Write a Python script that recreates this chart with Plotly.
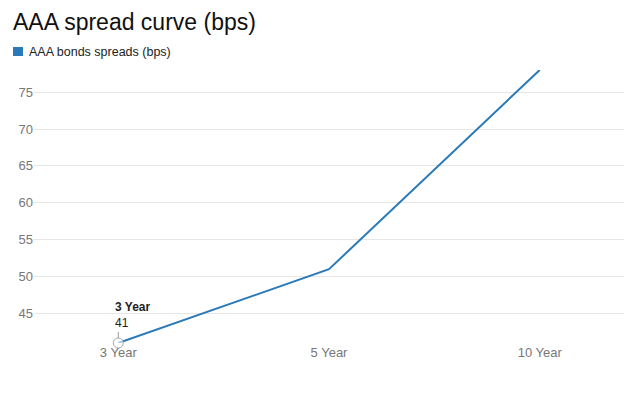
import plotly.graph_objects as go

categories = ["3 Year", "5 Year", "10 Year"]
spreads = [41, 51, 78]
series_name = "AAA bonds spreads (bps)"
title_text = "AAA spread curve (bps)"
y_ticks = [45, 50, 55, 60, 65, 70, 75]

line_color = "#2a7ab9"

fig = go.Figure()
fig.add_trace(go.Scatter(
    x=categories, y=spreads, mode="lines", name=series_name,
    line=dict(color=line_color, width=2),
    showlegend=False, hoverinfo="skip",
))
# highlighted point
fig.add_trace(go.Scatter(
    x=[categories[0]], y=[spreads[0]], mode="markers",
    marker=dict(symbol="circle", size=10, color="rgba(255,255,255,0.6)",
                line=dict(color="#aaaaaa", width=1)),
    showlegend=False, hoverinfo="skip", cliponaxis=False,
))

# legend swatch + label (drawn manually to match the compact legend)
fig.add_shape(type="rect", xref="paper", yref="paper",
              x0=-0.0356, x1=-0.0186, y0=1.0513, y1=1.0842,
              fillcolor=line_color, line=dict(width=0))
fig.add_annotation(x=-0.0102, y=1.0659, xref="paper", yref="paper",
                   text=series_name, showarrow=False, xanchor="left", yanchor="middle",
                   xshift=-1, font=dict(size=12.5, color="#222222"))

fig.add_shape(type="line", xref="x", yref="y", xsizemode="pixel", ysizemode="pixel",
              xanchor=categories[0], yanchor=spreads[0], x0=0, x1=0, y0=5, y1=11,
              line=dict(color="#999999", width=1))
fig.add_annotation(x=categories[0], y=spreads[0], xref="x", yref="y",
                   text=f"<b>{categories[0]}</b><br>{spreads[0]}",
                   showarrow=False, xanchor="left", yanchor="bottom",
                   xshift=-5, yshift=11, align="left",
                   font=dict(size=12, color="#222222", family="Liberation Sans, Arial"))

fig.update_layout(
    width=640, height=394,
    paper_bgcolor="white", plot_bgcolor="white",
    margin=dict(l=26, r=24, t=62, b=59, autoexpand=False),
    font=dict(family="Liberation Sans, Arial", size=13, color="#666666"),
    title=dict(text=title_text, x=5/640, xanchor="left", xref="container",
               y=1-14/394, yanchor="middle", yref="container",
               font=dict(size=23, color="#111111", family="Liberation Sans, Arial")),
    showlegend=False,
    xaxis=dict(type="category", range=[-0.4, 2.4], showgrid=False, zeroline=False,
               showline=False, ticks="", automargin=False,
               tickfont=dict(size=13, color="#777777")),
    yaxis=dict(range=[41, 78], tickvals=y_ticks, showgrid=True, gridcolor="#e6e6e6",
               gridwidth=1, zeroline=False, showline=False, ticks="", automargin=False,
               tickfont=dict(size=13, color="#777777")),
    hovermode=False,
)

fig.write_html("out.html")
